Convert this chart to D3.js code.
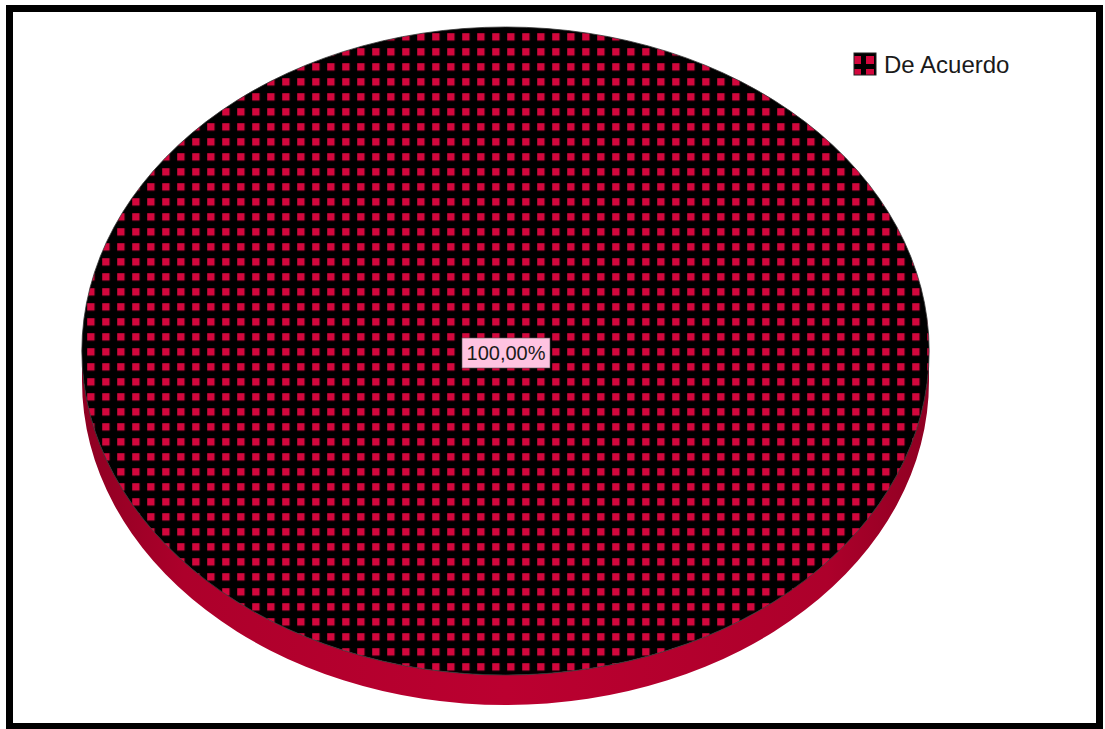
<!DOCTYPE html>
<meta charset="utf-8">
<style>
body {
	margin: 0;
	background: #fff;
}
svg {
	position: absolute;
	left: 0;
	top: 0;
}
.legend text,
.label text {
	font-family: "Liberation Sans", Arial, sans-serif;
	fill: #1a1a1a;
}
</style>
<body>
<svg></svg>
<script src="https://d3js.org/d3.v7.min.js"></script>
<script>

var categories = ["De Acuerdo"];
var values = [100];
var labels = ["100,00%"];

var width = 1105, height = 729;
var cx = 505.5, cy = 351, rx = 423.5, ry = 324, depth = 30;

var svg = d3.select("svg")
	.attr("width", width)
	.attr("height", height);

var defs = svg.append("defs");

// checker-ish fill used by SPSS for this slice
function addPattern(id, x, y, size, sq) {
	var p = defs.append("pattern")
		.attr("id", id)
		.attr("patternUnits", "userSpaceOnUse")
		.attr("x", x).attr("y", y)
		.attr("width", size).attr("height", size);
	p.append("rect").attr("width", size).attr("height", size).attr("fill", "#000");
	p.append("rect").attr("width", sq).attr("height", sq).attr("fill", "#d3073d");
}
addPattern("dots", 12.2, 3.2, 15, 7.4);
addPattern("dotsLegend", 857, 55, 13, 8);

var sideGrad = defs.append("linearGradient")
	.attr("id", "side")
	.attr("x1", "0%").attr("x2", "100%");
sideGrad.append("stop").attr("offset", "0%").attr("stop-color", "#8e0022");
sideGrad.append("stop").attr("offset", "12%").attr("stop-color", "#ad002b");
sideGrad.append("stop").attr("offset", "50%").attr("stop-color", "#bb0030");
sideGrad.append("stop").attr("offset", "88%").attr("stop-color", "#ad002b");
sideGrad.append("stop").attr("offset", "100%").attr("stop-color", "#8e0022");

var pie = d3.pie().sort(null);
var arcs = pie(values);

var xs = d3.scaleLinear().domain([-1, 1]).range([cx - rx, cx + rx]);
var ys = d3.scaleLinear().domain([-1, 1]).range([cy - ry, cy + ry]);

function pt(a, dy) {
	// d3 angles: 0 at 12 o'clock, clockwise
	return [xs(Math.sin(a)), ys(-Math.cos(a)) + (dy || 0)];
}

function topPath(d) {
	if (d.endAngle - d.startAngle >= 2 * Math.PI - 1e-6) {
		var a = pt(0), b = pt(Math.PI);
		return "M" + a + "A" + rx + "," + ry + " 0 1 1 " + b + "A" + rx + "," + ry + " 0 1 1 " + a + "Z";
	}
	var s = pt(d.startAngle), e = pt(d.endAngle);
	var large = d.endAngle - d.startAngle > Math.PI ? 1 : 0;
	return "M" + [cx, cy] + "L" + s + "A" + rx + "," + ry + " 0 " + large + " 1 " + e + "Z";
}

function sidePath(d) {
	var a0 = Math.max(d.startAngle, Math.PI / 2);
	var a1 = Math.min(d.endAngle, 3 * Math.PI / 2);
	if (a1 <= a0) return null;
	var s = pt(a0), e = pt(a1), s2 = pt(a0, depth), e2 = pt(a1, depth);
	return "M" + s + "A" + rx + "," + ry + " 0 0 1 " + e +
		"L" + e2 + "A" + rx + "," + ry + " 0 0 0 " + s2 + "Z";
}

svg.selectAll(".side")
	.data(arcs)
	.enter().append("path")
	.attr("class", "side")
	.attr("d", sidePath)
	.attr("fill", "url(#side)");

svg.selectAll(".slice")
	.data(arcs)
	.enter().append("path")
	.attr("class", "slice")
	.attr("d", topPath)
	.attr("fill", "url(#dots)")
	.attr("stroke", "#333")
	.attr("stroke-width", 0.8);

// value label in the middle of the (single) slice
var label = svg.selectAll(".label")
	.data(arcs)
	.enter().append("g")
	.attr("class", "label")
	.attr("transform", function(d) {
		var full = d.endAngle - d.startAngle >= 2 * Math.PI - 1e-6;
		if (full) return "translate(" + (cx + 0.5) + "," + (cy + 2) + ")";
		var m = (d.startAngle + d.endAngle) / 2, p = [xs(Math.sin(m) * 0.6), ys(-Math.cos(m) * 0.6)];
		return "translate(" + p + ")";
	});
label.append("rect")
	.attr("x", -44).attr("y", -15)
	.attr("width", 88).attr("height", 30)
	.attr("fill", "#ffc3e1")
	.attr("stroke", "#555")
	.attr("stroke-width", 0.6);
label.append("text")
	.attr("text-anchor", "middle")
	.attr("dy", "0.36em")
	.style("font-size", "20px")
	.text(function(d, i) { return labels[i]; });

// legend
var legend = svg.selectAll(".legend")
	.data(categories)
	.enter().append("g")
	.attr("class", "legend")
	.attr("transform", function(d, i) { return "translate(854," + (53 + i * 30) + ")"; });
legend.append("rect")
	.attr("width", 22).attr("height", 22)
	.attr("fill", "url(#dotsLegend)")
	.attr("stroke", "#222")
	.attr("stroke-width", 1);
legend.append("text")
	.attr("x", 30).attr("y", 20)
	.style("font-size", "24px")
	.text(function(d) { return d; });

// frame
svg.append("rect")
	.attr("x", 9.5).attr("y", 8.5)
	.attr("width", 1090).attr("height", 718)
	.attr("fill", "none")
	.attr("stroke", "#000")
	.attr("stroke-width", 7);

</script>
</body>
